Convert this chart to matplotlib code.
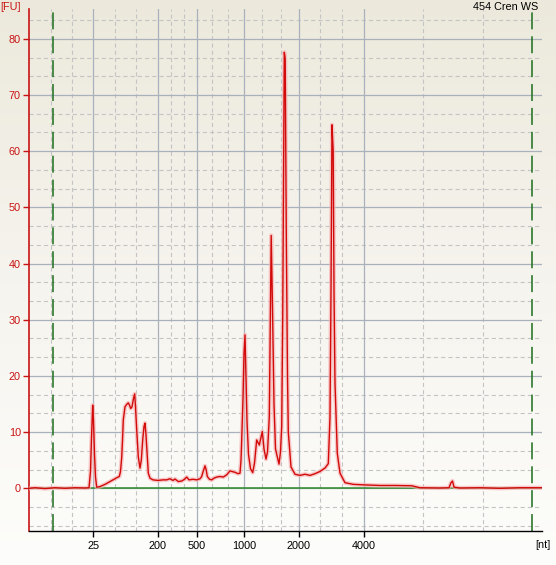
import numpy as np
import matplotlib
matplotlib.use("Agg")
import matplotlib.pyplot as plt
from matplotlib.colors import LinearSegmentedColormap

plt.rcParams['font.family'] = ['Liberation Sans', 'DejaVu Sans']
plt.rcParams['lines.scale_dashes'] = False

# ---- data (migration time in s, fluorescence in FU) ----
time_s = [15.00, 15.57, 16.57, 17.57, 18.57, 19.57, 20.57, 20.97, 21.12, 21.22,
          21.34, 21.42, 21.52, 21.62, 21.74, 22.07, 22.57, 23.07, 23.37, 23.77,
          24.00, 24.12, 24.24, 24.32, 24.40, 24.57, 24.77, 24.90, 25.02, 25.14,
          25.27, 25.42, 25.54, 25.62, 25.74, 25.90, 26.07, 26.20, 26.34, 26.47,
          26.57, 26.67, 26.74, 26.90, 27.07, 27.37, 27.87, 28.37, 28.74, 29.07,
          29.37, 29.57, 29.90, 30.24, 30.52, 30.74, 30.97, 31.37, 31.74, 32.07,
          32.24, 32.42, 32.57, 32.70, 32.80, 33.02, 33.24, 33.47, 33.74, 34.07,
          34.40, 34.74, 35.07, 35.24, 35.57, 35.87, 36.07, 36.17, 36.24, 36.37,
          36.47, 36.57, 36.67, 36.77, 36.92, 37.12, 37.34, 37.52, 37.74, 38.00,
          38.30, 38.47, 38.67, 38.82, 39.00, 39.10, 39.19, 39.32, 39.47, 39.62,
          39.97, 40.12, 40.24, 40.34, 40.44, 40.50, 40.59, 40.70, 40.82, 40.90,
          41.17, 41.57, 42.07, 42.57, 43.07, 43.57, 44.07, 44.57, 44.90, 45.07,
          45.17, 45.27, 45.39, 45.47, 45.57, 45.80, 46.07, 46.57, 47.40, 48.57,
          50.07, 51.57, 53.24, 54.07, 56.07, 56.97, 57.17, 57.32, 57.47, 58.07,
          60.07, 62.07, 64.07, 65.57, 66.27]
fu = [0.0, 0.1, -0.05, 0.1, 0.0, 0.1, 0.05, 0.1, 3.0, 9.0,
      14.8, 12.0, 6.0, 2.0, 0.2, 0.3, 0.7, 1.2, 1.5, 1.9,
      2.1, 3.0, 5.5, 8.5, 12.2, 14.5, 15.0, 15.2, 14.8, 14.2,
      14.5, 16.0, 16.8, 14.5, 10.4, 5.6, 3.6, 5.0, 8.6, 11.0,
      11.6, 9.5, 7.4, 2.7, 1.8, 1.5, 1.4, 1.5, 1.5, 1.7,
      1.4, 1.65, 1.2, 1.3, 1.6, 2.0, 1.5, 1.6, 1.5, 1.7,
      2.1, 3.2, 4.0, 3.2, 2.1, 1.6, 1.5, 1.8, 2.0, 2.1,
      2.0, 2.4, 3.1, 3.0, 2.85, 2.6, 2.7, 5.0, 8.6, 16.0,
      24.0, 27.3, 20.0, 12.0, 6.0, 3.5, 2.8, 4.5, 8.6, 7.7,
      10.1, 7.0, 5.2, 6.5, 12.7, 30.0, 45.0, 32.0, 15.0, 7.0,
      4.3, 6.5, 11.0, 30.0, 60.0, 77.6, 76.5, 45.0, 20.0, 10.0,
      3.8, 2.5, 2.3, 2.5, 2.3, 2.6, 3.0, 3.6, 4.4, 12.7,
      35.0, 64.7, 60.0, 35.0, 18.7, 6.2, 2.7, 1.0, 0.7, 0.6,
      0.5, 0.5, 0.45, 0.1, 0.05, 0.1, 1.0, 1.3, 0.2, 0.05,
      0.1, 0.0, 0.1, 0.1, 0.1]

ladder_nt = ['25', '200', '500', '1000', '2000', '4000']
ladder_time = [21.40, 27.84, 31.72, 36.50, 41.94, 48.47]
marker_times = [17.40, 65.30]
y_ticks = [0, 10, 20, 30, 40, 50, 60, 70, 80]
x_range = (15.0, 66.27)
y_range = (-7.6, 85.3)
title = "454 Cren WS"

W, H = 556, 565
fig = plt.figure(figsize=(W / 100, H / 100), dpi=100)

# background gradient
bg = fig.add_axes([0, 0, 1, 1])
bg.set_axis_off()
cmap = LinearSegmentedColormap.from_list('bg', ['#FDFDFB', '#F6F4EE', '#ECE9DC'])
bg.imshow(np.linspace(0, 1, 256).reshape(-1, 1), aspect='auto', cmap=cmap,
          extent=[0, 1, 0, 1])
bg.set_xlim(0, 1)
bg.set_ylim(1, 0)

L, R, T, B = 29.3, 542, 9, 531
ax = fig.add_axes([L / W, (H - B) / H, (R - L) / W, (B - T) / H])
ax.patch.set_alpha(0)
ax.set_xlim(*x_range)
ax.set_ylim(*y_range)

# grid
major_x = [x_range[0]] + ladder_time + [x_range[1]]
for i in range(len(major_x) - 1):
    a, b = major_x[i], major_x[i + 1]
    for k in (1, 2):
        ax.axvline(a + (b - a) * k / 3, color='#C4C4C4', lw=0.8,
                   dashes=(3, 2.2), zorder=1)
for xv in ladder_time:
    ax.axvline(xv, color='#A9B1BD', lw=0.9, zorder=1.2)
for yv in np.arange(-20, 90, 10):
    for k in (1, 2):
        ax.axhline(yv + 10 * k / 3, color='#C4C4C4', lw=0.8,
                   dashes=(3, 2.2), zorder=1)
for yv in y_ticks:
    ax.axhline(yv, color='#A9B1BD', lw=0.9, zorder=1.2)

# markers (green dashed)
for mt in marker_times:
    ax.axvline(mt, color='#1C6E1C', lw=1.1, dashes=(12.2, 5.0), zorder=2)

# baseline
ax.axhline(0, color='#2A8A2A', lw=1.1, zorder=2.5)

# trace with glow
ax.plot(time_s, fu, color='#F6B4B4', lw=3.0, alpha=0.7, zorder=3,
        solid_joinstyle='round')
ax.plot(time_s, fu, color='#D20A0A', lw=1.0, zorder=4,
        solid_joinstyle='round')

# spines & ticks
for s in ('top', 'right'):
    ax.spines[s].set_visible(False)
ax.spines['left'].set_color('#C81414')
ax.spines['left'].set_linewidth(1.2)
ax.spines['bottom'].set_color('black')
ax.spines['bottom'].set_linewidth(1.0)
ax.set_yticks(y_ticks)
ax.set_yticklabels([str(v) for v in y_ticks])
ax.set_xticks(ladder_time)
ax.set_xticklabels(ladder_nt)
ax.tick_params(axis='y', colors='#C81414', labelcolor='#C81414', length=4.5,
               width=1.0, pad=1.5, labelsize=7.8)
ax.tick_params(axis='x', colors='black', length=4.5, width=1.0, pad=3,
               labelsize=7.8)

fig.text(0 / W, 1 - 2.5 / H, '[FU]', color='#C81414', fontsize=7.8,
         ha='left', va='top')
fig.text(551 / W, 1 - 539.5 / H, '[nt]', color='black', fontsize=7.8,
         ha='right', va='top')
fig.text(538 / W, 1 - 1.5 / H, title, color='black', fontsize=7.8,
         ha='right', va='top')

fig.savefig('out.png', dpi=100)
